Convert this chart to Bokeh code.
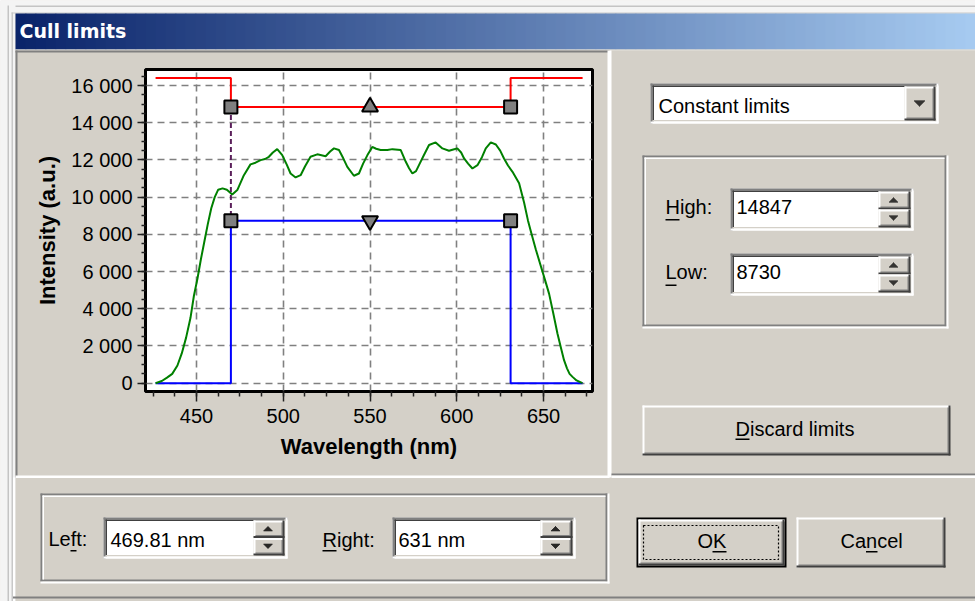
from bokeh.plotting import figure
from bokeh.models import Range1d, SingleIntervalTicker, CustomJSTickFormatter
from bokeh.core.properties import value
from bokeh.embed import file_html
from bokeh.resources import INLINE

# ---------------- data ----------------
wavelength_nm = [426.4, 430, 433, 436, 439, 441.5, 444, 446.5, 448.5, 450.5, 452.5, 454.5,
                 456.5, 458.5, 460.5, 462.5, 465, 467.5, 470.6, 473.5, 477.3, 481.1, 484,
                 486.9, 489.5, 491.7, 494, 496.5, 499.4, 502, 504.2, 507.1, 510, 512.5,
                 515.7, 519.6, 522, 524.4, 527, 529.2, 532.1, 534.5, 536.9, 540.7, 543.6,
                 546, 548.5, 551.3, 553.5, 556.1, 560, 562.9, 567.7, 570.6, 572.5, 574.4,
                 576.5, 578.2, 581, 584, 587.8, 591.7, 595.5, 598, 600.3, 602.5, 604.2,
                 606.5, 609, 611.9, 614.5, 616.7, 619.6, 622.5, 625, 627.2, 629.5, 632.1,
                 635.9, 638.8, 641, 643, 645.5, 648.4, 651, 653.2, 655.5, 658, 660, 661.8,
                 663.5, 665, 666.7, 669, 672.4]
intensity_au = [0, 120, 300, 500, 950, 1600, 2450, 3500, 4700, 5600, 6650, 7600,
                8550, 9400, 10000, 10400, 10470, 10400, 10140, 10380, 11180, 11760, 11850,
                11990, 12050, 12170, 12400, 12580, 12260, 11750, 11270, 11060, 11180, 11650,
                12170, 12300, 12250, 12200, 12450, 12620, 12530, 12100, 11630, 11150, 11270,
                11800, 12260, 12700, 12600, 12530, 12530, 12580, 12530, 11900, 11550, 11270,
                11400, 11720, 12250, 12800, 12940, 12620, 12490, 12560, 12620, 12400, 12080,
                11800, 11540, 11720, 12150, 12620, 12940, 12830, 12500, 12080, 11700, 11360,
                10740, 9700, 8750, 8050, 7200, 6300, 5500, 4800, 3800, 2670, 1900, 1240,
                800, 500, 340, 150, 0]

x_ticks = [450, 500, 550, 600, 650]
x_tick_labels = ["450", "500", "550", "600", "650"]
y_ticks = [0, 2000, 4000, 6000, 8000, 10000, 12000, 14000, 16000]
y_tick_labels = ["0", "2 000", "4 000", "6 000", "8 000", "10 000", "12 000", "14 000", "16 000"]

limit_wl_start = 426.4
limit_wl_end = 672.5
left_limit_nm = 469.81
right_limit_nm = 631.0
high_limit = 14847
low_limit = 8730
outside_high = 16400
outside_low = 0
marker_wl = 550

title_text = "Cull limits"
mode_text = "Constant limits"
high_text = "14847"
low_text = "8730"
left_text = "469.81 nm"
right_text = "631 nm"

# ---------------- figure ----------------
FACE = "#d4d0c8"
W, H = 975, 601
FL, FR, FT, FB = 145, 592, 69, 391   # plot frame in pixel space

p = figure(width=W, height=H, output_backend="svg", toolbar_location=None,
           x_range=Range1d(420.6, 678.2), y_range=Range1d(-446, 16860),
           min_border_left=FL, min_border_right=W - FR,
           min_border_top=FT, min_border_bottom=H - FB,
           background_fill_color="white", border_fill_color=FACE)
p.extra_x_ranges = {"px": Range1d(FL, FR)}
p.extra_y_ranges = {"py": Range1d(FB, FT)}

fmt_code = "const i = tvals.indexOf(tick); return i < 0 ? '' : tlabels[i];"
p.xaxis.ticker = SingleIntervalTicker(interval=50, num_minor_ticks=4)
p.xaxis.formatter = CustomJSTickFormatter(args=dict(tvals=x_ticks, tlabels=x_tick_labels), code=fmt_code)
p.yaxis.ticker = SingleIntervalTicker(interval=2000, num_minor_ticks=4)
p.yaxis.formatter = CustomJSTickFormatter(args=dict(tvals=y_ticks, tlabels=y_tick_labels), code=fmt_code)

p.xaxis.axis_label = "Wavelength (nm)"
p.yaxis.axis_label = "Intensity (a.u.)"
for ax in (p.xaxis, p.yaxis):
    ax.axis_label_text_font = "Liberation Sans"
    ax.axis_label_text_font_style = "bold"
    ax.axis_label_text_font_size = "22px"
    ax.axis_label_text_color = "black"
    ax.major_label_text_font = "Liberation Sans"
    ax.major_label_text_font_size = "20px"
    ax.major_label_text_color = "black"
    ax.axis_line_color = "black"
    ax.axis_line_width = 2
    ax.major_tick_line_color = "#202020"
    ax.minor_tick_line_color = "#202020"
    ax.major_tick_line_width = 1.5
    ax.minor_tick_line_width = 1.5
    ax.major_tick_in = 0
    ax.minor_tick_in = 0
p.xaxis.major_tick_out = 10
p.xaxis.minor_tick_out = 5
p.xaxis.major_label_standoff = 7
p.xaxis.axis_label_standoff = 8
p.yaxis.major_tick_out = 8
p.yaxis.minor_tick_out = 4
p.yaxis.major_label_standoff = 5
p.yaxis.axis_label_standoff = 8

for g in (p.xgrid, p.ygrid):
    g.grid_line_color = "#808080"
    g.grid_line_dash = "7 5"
    g.grid_line_width = 1.6

p.outline_line_color = "black"
p.outline_line_width = 3
p.outline_line_alpha = 1

# ---------------- chart content ----------------
red_x = [limit_wl_start, left_limit_nm, left_limit_nm, right_limit_nm, right_limit_nm, limit_wl_end]
red_y = [outside_high, outside_high, high_limit, high_limit, outside_high, outside_high]
blue_y = [outside_low, outside_low, low_limit, low_limit, outside_low, outside_low]
p.line(red_x, red_y, line_color="#ff0000", line_width=2)
p.line(red_x, blue_y, line_color="#0000ff", line_width=2)
p.line(wavelength_nm, intensity_au, line_color="#008000", line_width=2)
p.segment(x0=[left_limit_nm], y0=[high_limit], x1=[left_limit_nm], y1=[low_limit],
          line_color="#5a1f5a", line_width=2, line_dash="5 3")
p.scatter([left_limit_nm, right_limit_nm, left_limit_nm, right_limit_nm],
          [high_limit, high_limit, low_limit, low_limit], marker="square", size=13,
          fill_color="#808080", line_color="black", line_width=2)
p.scatter([marker_wl], [high_limit], marker="triangle", size=16,
          fill_color="#808080", line_color="black", line_width=2)
p.scatter([marker_wl], [low_limit], marker="inverted_triangle", size=16,
          fill_color="#808080", line_color="black", line_width=2)

# ---------------- dialog chrome (pixel space) ----------------
R = dict(l=[], r=[], t=[], b=[], c=[])


def rect(l, t, r, b, c):
    R["l"].append(l); R["r"].append(r); R["t"].append(t); R["b"].append(b); R["c"].append(c)


def tri(cx, top, rows, up):
    # pixel-style arrow glyph made of stacked rows
    for k in range(rows):
        wdt = 2 * (k if up else rows - 1 - k) + 1
        rect(cx - wdt / 2, top + k, cx + wdt / 2, top + k + 1, "#000000")


def raised(l, t, r, b):
    rect(l, t, r, b, FACE)
    rect(l, t, r, t + 2, "#ffffff"); rect(l, t, l + 2, b, "#ffffff")
    rect(l + 2, b - 3, r - 2, b - 2, "#808080"); rect(r - 3, t + 2, r - 2, b - 2, "#808080")
    rect(l, b - 2, r, b, "#404040"); rect(r - 2, t, r, b, "#404040")


def sunken(l, t, r, b, fill="#ffffff"):
    rect(l, t, r, b, fill)
    rect(l, t, r, t + 2, "#808080"); rect(l, t, l + 2, b, "#808080")
    rect(l + 2, t + 2, r - 2, t + 3.5, "#404040"); rect(l + 2, t + 2, l + 3.5, b - 2, "#404040")
    rect(l + 2, b - 3.5, r - 2, b - 2, FACE); rect(r - 3.5, t + 2, r - 2, b - 2, FACE)
    rect(l, b - 2, r, b, "#ffffff"); rect(r - 2, t, r, b, "#ffffff")


def etched(l, t, r, b):
    rect(l, t, r - 2, t + 2, "#808080"); rect(l, t, l + 2, b - 2, "#808080")
    rect(l, b - 4, r - 2, b - 2, "#808080"); rect(r - 4, t, r - 2, b - 2, "#808080")
    rect(l + 2, t + 2, r - 4, t + 3.5, "#ffffff"); rect(l + 2, t + 2, l + 3.5, b - 4, "#ffffff")
    rect(l, b - 2, r, b, "#ffffff"); rect(r - 2, t, r, b, "#ffffff")


def spin(l, t, r, b):
    mid = (t + b) / 2
    raised(l, t, r, mid)
    raised(l, mid, r, b)
    cx = (l + r) / 2 - 1
    tri(cx, (t + mid) / 2 - 3, 5, True)
    tri(cx, (mid + b) / 2 - 3, 5, False)


# window frame (outside the dialog body)
rect(0, 0, W, 13, "#f4f4f4")
rect(7, 5, W, 6.5, "#c4c4c4")
rect(0, 0, 15, H, "#f4f4f4")
rect(7, 5, 8.5, H, "#c4c4c4")
rect(11, 12, 12.5, H, "#c8c8c8")
rect(11, 12, W, 13, "#c8c8c8")

# title bar gradient
c0, c1 = (10, 36, 106), (166, 202, 240)
n = 96
x_start, x_end = 15, W
step = (x_end - x_start) / n
for i in range(n):
    f = i / (n - 1)
    col = "#%02x%02x%02x" % tuple(int(round(a + (b - a) * f)) for a, b in zip(c0, c1))
    rect(x_start + i * step, 13, x_start + (i + 1) * step + 0.8, 49, col)
rect(15, 49, W, 50, "#e4e2dc")

# panels
rect(15, 50, 609, 52, "#808080"); rect(15, 50, 17, 477, "#808080")   # chart panel sunken
rect(607, 50, 611, 477, "#ffffff")
rect(15, 475, 609, 477.5, "#ffffff")
rect(611, 473, W, 475, "#808080")                                     # right panel bottom
rect(611, 475, W, 477.5, "#ffffff")
rect(12.5, 477, 14.5, H, "#ffffff")                                    # bottom panel left
rect(12.5, 596, W, 598, "#808080")                                     # bottom panel bottom

# right panel controls
sunken(650, 83, 938, 123)
raised(904, 86, 935, 120)
tri(919, 100, 6, False)
etched(642, 155, 948, 328)
sunken(730, 188, 913, 230)
spin(878, 191, 910, 227)
sunken(730, 253, 913, 295)
spin(878, 256, 910, 292)
raised(642, 405, 950, 455)

# bottom panel controls
etched(40, 493, 609, 583)
sunken(103, 517, 287, 558)
spin(253, 520, 284, 555)
sunken(392, 517, 575, 558)
spin(540, 520, 572, 555)
rect(636, 517, 786, 567, "#000000")
raised(638, 519, 784, 565)
raised(796, 517, 945, 567)

# mnemonic underlines
rect(665, 218.5, 679, 220, "#000000")      # High
rect(665, 284, 676, 285.5, "#000000")      # Low
rect(735, 438, 749, 439.5, "#000000")      # Discard
rect(70, 549.5, 76, 551, "#000000")        # Left (f)
rect(322, 549.5, 336, 551, "#000000")      # Right
rect(712, 550.5, 726, 552, "#000000")      # OK (K)
rect(865.5, 550.5, 877, 552, "#000000")    # Cancel (n)

ov = dict(x_range_name="px", y_range_name="py", level="overlay")
p.quad(left=R["l"], right=R["r"], top=R["t"], bottom=R["b"], fill_color=R["c"],
       line_color=None, **ov)
# OK focus rectangle
p.quad(left=[643], right=[778], top=[525], bottom=[559], fill_color=None,
       line_color="black", line_width=1.2, line_dash="2 2", **ov)

# title text
p.text(x=[19], y=[30.5], text=[title_text], text_color="white", text_font=value("DejaVu Sans"),
       text_font_style="bold", text_font_size="19px", text_baseline="middle", **ov)

# dialog texts (y = vertical centre of capitals)
tx = [658, 665, 665, 736, 736, 735, 48, 110, 322, 398, 697, 840]
ty = [105, 206, 271.5, 206.5, 271.5, 428, 538.5, 539, 539, 539, 540, 540]
tt = [mode_text, "High:", "Low:", high_text, low_text, "Discard limits",
      "Left:", left_text, "Right:", right_text, "OK", "Cancel"]
p.text(x=tx, y=ty, text=tt, text_color="black", text_font=value("Liberation Sans"),
       text_font_size="20px", text_baseline="middle", **ov)

open("out.html", "w").write(file_html(p, INLINE))
